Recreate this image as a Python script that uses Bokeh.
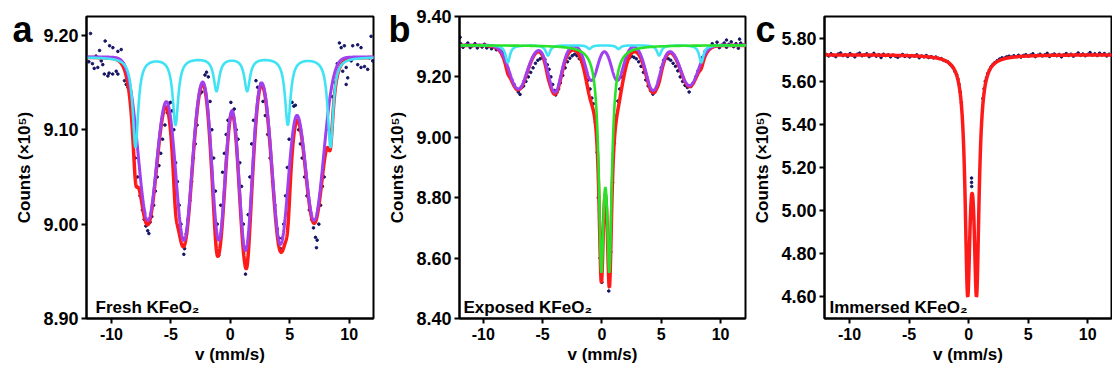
import numpy as np
from bokeh.plotting import figure
from bokeh.layouts import row
from bokeh.models import Range1d, Label, FixedTicker, PrintfTickFormatter
from bokeh.embed import file_html
from bokeh.resources import INLINE

# ------------------------------------------------------------------ data
v_ticks = [-10, -5, 0, 5, 10]

# panel a : Fresh KFeO2
a_yticks = [8.90, 9.00, 9.10, 9.20]
a_base = 9.177
a_purple_pos = [-6.94, -3.91, -0.97, 1.28, 4.22, 7.05]
a_purple_depth = [0.173, 0.194, 0.194, 0.205, 0.198, 0.173]
a_purple_sigma = [0.80, 0.70, 0.57, 0.57, 0.70, 0.80]
a_cyan_pos = [-7.98, -4.61, -1.16, 1.42, 4.84, 8.43]
a_cyan_depth = [0.095, 0.071, 0.035, 0.035, 0.071, 0.095]
a_cyan_hw = [0.28, 0.28, 0.28, 0.28, 0.28, 0.28]
a_cyan_share = 0.6
a_dot_v = [-11.9, -11.76, -11.6, -11.45, -11.3, -11.15, -11.0, -10.86, -10.73, -10.6, -10.53, -10.3,
           -10.2, -10.16, -9.9, -9.88, -9.6, -9.46, -9.46, -9.18, -9.0, -8.9, -8.76, -8.62,
           -8.4, -8.2, -8.0, -7.8, -7.6, -7.4, -7.25, -7.1, -6.95, -6.85, -6.75, -6.6, -6.45, -6.3,
           -6.15, -6.0, -5.85, -5.7, -5.5, -5.3, -5.15, -5.03, -4.9,
           -4.75, -4.6, -4.45, -4.3, -4.15, -4.0, -3.91, -3.85, -3.7, -3.55, -3.4, -3.25, -3.1, -2.95,
           -2.8, -2.55, -2.4, -2.13, -2.0, -1.85, -1.7, -1.55, -1.4, -1.25, -1.1, -0.97,
           -0.8, -0.65, -0.5, -0.35, -0.2, 0.05, 0.2, 0.33, 0.5, 0.65, 0.8, 0.95, 1.1, 1.28, 1.3,
           1.5, 1.65, 1.8, 1.95, 2.16, 2.3, 2.58, 2.75, 2.95, 3.15, 3.35, 3.55, 3.75, 3.95, 4.1, 4.22,
           4.35, 4.5, 4.65, 4.8, 4.95, 5.2, 5.35, 5.48, 5.6, 5.75, 5.9, 6.05, 6.25, 6.45, 6.65, 6.85,
           7.0, 7.17, 7.31, 7.25, 7.45, 7.6, 7.75, 7.9, 8.05, 8.3, 8.6, 8.8, 9.0,
           9.18, 9.33, 9.46, 9.6, 9.75, 9.75, 9.88, 10.17, 10.3, 10.45, 10.72, 10.72, 11.0, 11.0,
           11.29, 11.56, 11.7, 11.85, 11.98]
a_dot_c = [9.172, 9.202, 9.170, 9.165, 9.178, 9.166, 9.184, 9.173, 9.169, 9.159, 9.194, 9.157,
           9.160, 9.189, 9.159, 9.187, 9.162, 9.159, 9.183, 9.185, 9.170, 9.152, 9.148, 9.145,
           9.135, 9.110, 9.070, 9.050, 9.030, 9.015, 9.005, 8.998, 8.993, 8.990, 9.002, 9.008, 9.020, 9.035,
           9.050, 9.062, 9.075, 9.090, 9.105, 9.118, 9.128, 9.129, 9.120,
           9.100, 9.065, 9.045, 9.020, 9.000, 8.985, 8.968, 8.974, 8.990, 9.005, 9.025, 9.045, 9.070, 9.085,
           9.105, 9.138, 9.140, 9.158, 9.161, 9.156, 9.130, 9.100, 9.070, 9.035, 9.000, 8.967,
           9.020, 9.055, 9.075, 9.095, 9.110, 9.129, 9.120, 9.122, 9.100, 9.090, 9.065, 9.040, 9.000, 8.947, 8.954,
           9.010, 9.050, 9.085, 9.110, 9.152, 9.145, 9.149, 9.130, 9.115, 9.095, 9.070, 9.045, 9.020, 8.995, 8.985, 8.974,
           8.985, 9.000, 9.030, 9.060, 9.090, 9.129, 9.125, 9.126, 9.110, 9.100, 9.085, 9.070, 9.050, 9.030, 9.015, 9.005,
           8.996, 8.986, 8.983, 8.975, 9.000, 9.020, 9.040, 9.050, 9.080, 9.100, 9.135, 9.150, 9.170,
           9.192, 9.187, 9.162, 9.189, 9.166, 9.148, 9.155, 9.173, 9.189, 9.176, 9.190, 9.169, 9.187, 9.166,
           9.167, 9.164, 9.176, 9.199, 9.173]

# panel b : Exposed KFeO2
b_yticks = [8.40, 8.60, 8.80, 9.00, 9.20, 9.40]
b_base = 9.305
b_purple_pos = [-7.05, -3.97, -0.88, 1.30, 4.32, 7.38]
b_purple_depth = [0.145, 0.156, 0.117, 0.117, 0.150, 0.134]
b_purple_sigma = [0.75, 0.55, 0.50, 0.50, 0.60, 0.75]
b_cyan_pos = [-7.93, -4.55, -1.06, 1.40, 4.82, 8.38]
b_cyan_depth = [0.057, 0.034, 0.012, 0.012, 0.034, 0.057]
b_cyan_hw = [0.22, 0.22, 0.22, 0.22, 0.22, 0.22]
b_cyan_share = 0.35
b_green_pos = [-0.05, 0.63]
b_green_depth = [0.672, 0.672]
b_green_hw = [0.25, 0.25]
b_dot_v = [-11.95, -11.9, -11.7, -11.5, -11.3, -11.1, -10.9, -10.7, -10.5, -10.3, -10.1, -9.9, -9.7,
           -9.5, -9.3, -9.1, -8.9, -8.7, -8.5, -8.3, -8.1, -7.95, -7.8, -7.6, -7.4, -7.2, -7.05,
           -6.9, -6.75, -6.6, -6.4, -6.2, -6.0, -5.8, -5.6, -5.4, -5.2, -5.0, -4.8, -4.6, -4.45,
           -4.3, -4.15, -4.0, -3.9, -3.8, -3.65, -3.5, -3.3, -3.1, -2.9, -2.7, -2.5, -2.3, -2.1,
           -1.9, -1.7, -1.5, -1.3, -1.15, -1.0, -0.85, -0.73, -0.55, -0.4, -0.3, -0.15, 0.0, 0.3,
           0.58, 0.75, 0.9, 1.05, 1.2, 1.35, 1.5, 1.7, 1.9, 2.1, 2.3, 2.5, 2.7, 2.9, 3.1, 3.3, 3.5,
           3.7, 3.9, 4.1, 4.3, 4.45, 4.6, 4.8, 5.0, 5.2, 5.4, 5.6, 5.8, 6.0, 6.2, 6.4, 6.6, 6.8,
           7.0, 7.2, 7.35, 7.5, 7.7, 7.9, 8.1, 8.3, 8.5, 8.7, 8.9, 9.1, 9.3, 9.5, 9.7, 9.9, 10.1,
           10.3, 10.5, 10.5, 10.7, 10.9, 11.1, 11.3, 11.5, 11.6, 11.7, 11.9]
b_dot_c = [9.331, 9.310, 9.298, 9.305, 9.312, 9.297, 9.303, 9.310, 9.296, 9.304, 9.299, 9.308, 9.296,
           9.302, 9.293, 9.300, 9.290, 9.292, 9.285, 9.280, 9.255, 9.230, 9.205, 9.190, 9.175, 9.160, 9.150,
           9.142, 9.165, 9.170, 9.185, 9.200, 9.215, 9.230, 9.245, 9.255, 9.260, 9.265, 9.258, 9.240, 9.225,
           9.200, 9.175, 9.155, 9.140, 9.148, 9.160, 9.180, 9.205, 9.230, 9.250, 9.262, 9.270, 9.275, 9.270,
           9.260, 9.250, 9.235, 9.215, 9.190, 9.160, 9.130, 9.111, 9.050, 8.950, 8.800, 8.600, 8.520, 8.790,
           8.491, 8.620, 8.850, 8.980, 9.070, 9.120, 9.160, 9.200, 9.230, 9.250, 9.262, 9.268, 9.265, 9.260, 9.250, 9.235, 9.215,
           9.190, 9.170, 9.155, 9.143, 9.150, 9.165, 9.190, 9.230, 9.255, 9.262, 9.260, 9.255, 9.245, 9.235, 9.220, 9.200, 9.185,
           9.172, 9.165, 9.150, 9.168, 9.180, 9.200, 9.220, 9.235, 9.265, 9.285, 9.292, 9.298, 9.310, 9.302, 9.315, 9.297, 9.305,
           9.312, 9.298, 9.322, 9.308, 9.316, 9.300, 9.310, 9.295, 9.325, 9.312, 9.305]

# panel c : Immersed KFeO2
c_yticks = [4.60, 4.80, 5.00, 5.20, 5.40, 5.60, 5.80]
c_base = 5.723
c_red_pos = [-0.08, 0.67]
c_red_depth = [1.015, 1.015]
c_red_hw = [0.255, 0.255]
c_dot_v = [-11.95, -11.75, -11.55, -11.35, -11.15, -10.95, -10.75, -10.55, -10.35, -10.15, -9.95, -9.75,
           -9.55, -9.35, -9.15, -8.95, -8.75, -8.55, -8.35, -8.15, -7.95, -7.75, -7.55, -7.35,
           -7.15, -6.95, -6.75, -6.55, -6.35, -6.15, -5.95, -5.75, -5.55, -5.35, -5.15, -4.95,
           -4.75, -4.55, -4.35, -4.15, -3.95, -3.75, -3.55, -3.35, -3.15, -2.95, -2.75, -2.55,
           -2.3, -2.1, -1.9, -1.75, -1.6, -1.45, -1.3, -1.15, -1.0, -0.9, -0.8, -0.7, -0.6,
           0.25, 0.25, 0.26,
           1.2, 1.3, 1.4, 1.5, 1.6, 1.75, 1.9, 2.05, 2.2, 2.4,
           2.6, 2.8, 3.0, 3.2, 3.4, 3.6, 3.8, 4.0, 4.2, 4.4, 4.6, 4.8, 5.0, 5.2, 5.4, 5.6, 5.8,
           6.0, 6.2, 6.4, 6.6, 6.8, 7.0, 7.2, 7.4, 7.6, 7.8, 8.0, 8.2, 8.4, 8.6, 8.8, 9.0, 9.2,
           9.4, 9.6, 9.8, 10.0, 10.2, 10.4, 10.6, 10.8, 11.0, 11.2, 11.4, 11.6, 11.8, 11.95]
c_dot_c = [5.724, 5.717, 5.727, 5.720, 5.714, 5.726, 5.731, 5.719, 5.723, 5.715, 5.728, 5.721,
           5.713, 5.725, 5.730, 5.718, 5.722, 5.727, 5.714, 5.720, 5.729, 5.716, 5.723, 5.710,
           5.725, 5.719, 5.722, 5.713, 5.721, 5.716, 5.711, 5.718, 5.724, 5.715, 5.720, 5.712,
           5.719, 5.716, 5.722, 5.709, 5.717, 5.713, 5.719, 5.710, 5.714, 5.708, 5.712, 5.706,
           5.705, 5.697, 5.692, 5.690, 5.680, 5.672, 5.662, 5.645, 5.630, 5.610, 5.585, 5.550, 5.500,
           5.151, 5.131, 5.112,
           5.520, 5.565, 5.600, 5.615, 5.635, 5.652, 5.668, 5.678, 5.686, 5.695,
           5.703, 5.708, 5.707, 5.713, 5.716, 5.711, 5.718, 5.714, 5.720, 5.712, 5.719, 5.723, 5.716, 5.721, 5.727, 5.714, 5.720,
           5.725, 5.717, 5.722, 5.729, 5.715, 5.721, 5.726, 5.718, 5.724, 5.713, 5.722, 5.728, 5.719, 5.725, 5.716, 5.723, 5.731,
           5.720, 5.726, 5.718, 5.724, 5.733, 5.721, 5.727, 5.719, 5.730, 5.722, 5.728, 5.717, 5.725, 5.721]

# ------------------------------------------------------------------ line shapes
def lorentz(v, pos, depth, hw):
    out = np.zeros_like(v)
    for p0, d, w in zip(pos, depth, hw):
        out += d / (1.0 + ((v - p0) / w) ** 2)
    return out


def gauss(v, pos, depth, sig):
    out = np.zeros_like(v)
    for p0, d, s in zip(pos, depth, sig):
        out += d * np.exp(-((v - p0) ** 2) / (2.0 * s * s))
    return out


v = np.linspace(-12.4, 12.4, 2481)

FONT = "Liberation Sans"
RED = "#FF1A1A"
PURPLE = "#A040EE"
CYAN = "#3FE3F3"
GREEN = "#28E228"
DOT = "#141466"
FH = 302
TOP = 16
HEIGHT = 370


def make_fig(xr, yr, yticks, bl, fw, br, letter, letter_dx):
    p = figure(frame_width=fw, frame_height=FH, x_range=Range1d(*xr), y_range=Range1d(*yr),
               min_border_left=bl, min_border_right=br, min_border_top=TOP,
               min_border_bottom=HEIGHT - TOP - FH,
               output_backend="svg", toolbar_location=None, tools="")
    # panel letter drawn as the figure title, pulled down beside the frame
    p.title.text = letter
    p.title.text_font = FONT
    p.title.text_font_style = "bold"
    p.title.text_font_size = "36px"
    p.title.text_color = "black"
    p.title.align = "left"
    p.title.vertical_align = "bottom"
    p.title.offset = letter_dx
    p.title.standoff = -66
    p.grid.visible = False
    p.background_fill_color = "white"
    p.border_fill_color = "white"
    p.outline_line_color = "black"
    p.outline_line_width = 2
    p.outline_line_alpha = 1.0
    p.xaxis.ticker = FixedTicker(ticks=v_ticks)
    p.yaxis.ticker = FixedTicker(ticks=yticks)
    p.xaxis.formatter = PrintfTickFormatter(format="%d")
    p.yaxis.formatter = PrintfTickFormatter(format="%.2f")
    p.xaxis.axis_label = "v (mm/s)"
    p.yaxis.axis_label = "Counts (×10⁵)"
    for ax in (p.xaxis[0], p.yaxis[0]):
        ax.axis_line_width = 2
        ax.axis_line_color = "black"
        ax.major_tick_line_width = 2
        ax.major_tick_line_color = "black"
        ax.major_tick_out = 5
        ax.major_tick_in = 0
        ax.minor_tick_line_color = None
        ax.major_label_text_font = FONT
        ax.major_label_text_font_style = "bold"
        ax.major_label_text_color = "black"
        ax.axis_label_text_font = FONT
        ax.axis_label_text_font_style = "bold"
        ax.axis_label_text_font_size = "17px"
        ax.axis_label_text_color = "black"
    p.xaxis.major_label_text_font_size = "16px"
    p.yaxis.major_label_text_font_size = "18px"
    p.xaxis.major_label_standoff = 4
    p.yaxis.major_label_standoff = 3
    p.xaxis.axis_label_standoff = 2
    p.yaxis.axis_label_standoff = 6
    return p


def at(xr, yr, fw, dx, dy):
    return (xr[0] + dx / fw * (xr[1] - xr[0]), yr[1] - dy / FH * (yr[1] - yr[0]))


def add_name(p, xr, yr, fw, name, tdx, tdy):
    x, y = at(xr, yr, fw, tdx, tdy)
    p.add_layout(Label(x=x, y=y, text=name, text_font=FONT, text_font_style="bold",
                       text_font_size="17px", text_baseline="alphabetic", text_color="black"))


# ---------------- panel a
xa, ya, fwa = (-12.1, 12.05), (8.90, 9.22), 287
pa = make_fig(xa, ya, a_yticks, 86, fwa, 7, "a", -74)
a_purple = a_base - gauss(v, a_purple_pos, a_purple_depth, a_purple_sigma)
a_cyan_abs = lorentz(v, a_cyan_pos, a_cyan_depth, a_cyan_hw)
a_cyan = a_base - a_cyan_abs
a_red = a_purple - a_cyan_share * a_cyan_abs
pa.scatter(a_dot_v, a_dot_c, size=2.6, color=DOT)
pa.line(v, a_red, line_color=RED, line_width=3.5)
pa.line(v, a_purple, line_color=PURPLE, line_width=3)
pa.line(v, a_cyan, line_color=CYAN, line_width=2.6)
add_name(pa, xa, ya, fwa, "Fresh KFeO₂", 9, 290.7)

# ---------------- panel b
xb, yb, fwb = (-12.0, 12.1), (8.40, 9.40), 286
pb = make_fig(xb, yb, b_yticks, 79, fwb, 5, "b", -71)
b_purple_abs = gauss(v, b_purple_pos, b_purple_depth, b_purple_sigma)
b_cyan_abs = lorentz(v, b_cyan_pos, b_cyan_depth, b_cyan_hw)
b_green_abs = lorentz(v, b_green_pos, b_green_depth, b_green_hw)
b_red = b_base - b_purple_abs - b_green_abs - b_cyan_share * b_cyan_abs
pb.scatter(b_dot_v, b_dot_c, size=2.6, color=DOT)
pb.line(v, b_red, line_color=RED, line_width=3.5)
pb.line(v, b_base - b_purple_abs, line_color=PURPLE, line_width=3)
pb.line(v, b_base - b_cyan_abs, line_color=CYAN, line_width=2.6)
pb.line(v, b_base - b_green_abs, line_color=GREEN, line_width=2.6)
add_name(pb, xb, yb, fwb, "Exposed KFeO₂", 4, 291)

# ---------------- panel c
xc, yc, fwc = (-12.1, 12.0), (4.50, 5.90), 287
pc = make_fig(xc, yc, c_yticks, 74, fwc, 1, "c", -69)
c_red = c_base - lorentz(v, c_red_pos, c_red_depth, c_red_hw)
pc.scatter(c_dot_v, c_dot_c, size=2.6, color=DOT)
pc.line(v, c_red, line_color=RED, line_width=3.5)
add_name(pc, xc, yc, fwc, "Immersed KFeO₂", 5, 290.7)

layout = row(pa, pb, pc, spacing=0)
open("out.html", "w").write(file_html(layout, INLINE))
